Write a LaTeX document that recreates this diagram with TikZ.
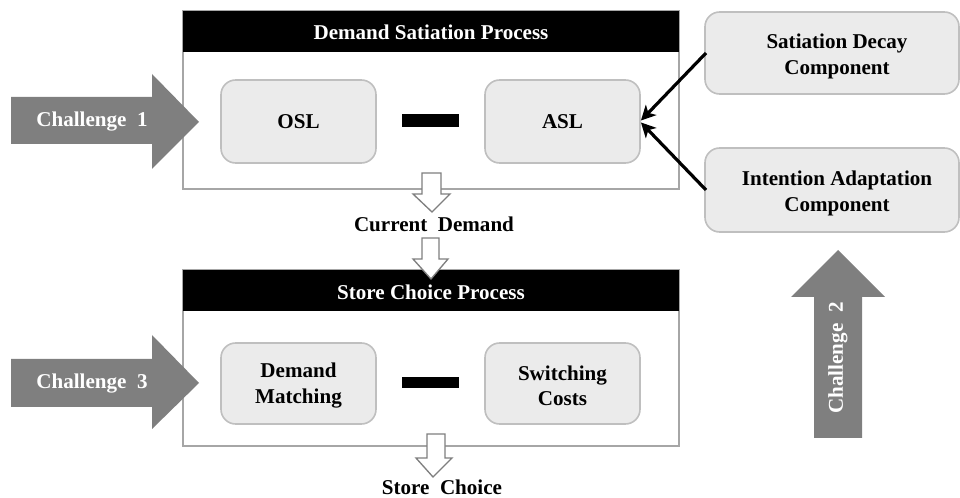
\documentclass[tikz,border=0pt]{standalone}
\usepackage{fontspec}
\setmainfont{Liberation Serif}
\usetikzlibrary{arrows.meta}
\definecolor{chgray}{HTML}{7F7F7F}
\definecolor{boxfill}{HTML}{EBEBEB}
\definecolor{boxline}{HTML}{BFBFBF}
\definecolor{frameline}{HTML}{A6A6A6}
\definecolor{hollowline}{HTML}{7F7F7F}
\tikzset{
  lbl/.style={font=\fontsize{15.8}{18}\selectfont\bfseries, align=center, inner sep=0pt},
  whitelbl/.style={lbl, text=white},
  compbox/.style={draw=boxline, line width=1.2pt, fill=boxfill, rounded corners=11pt},
  frame/.style={draw=frameline, line width=1pt, fill=white},
  header/.style={fill=black},
  challenge/.style={fill=chgray},
  hollow/.style={draw=hollowline, line width=1pt, fill=white, line join=miter},
  minusbar/.style={fill=black},
  feed/.style={draw=black, line width=2.4pt, -{Stealth[length=11pt,width=11pt,inset=3pt]}, shorten >=1pt}
}
\begin{document}
\begin{tikzpicture}[x=0.75pt,y=-0.75pt]
\useasboundingbox (0,0) rectangle (960,498);

% ---- Demand satiation process ----
\path[frame] (183,11) rectangle (679,189);
\path[header] (183,11) rectangle (679,52);
\node[whitelbl] (dsp) at (431,32) {Demand Satiation Process};
\path[compbox] (221,80) rectangle (376,163);
\node[lbl] (osl) at (298.5,122) {OSL};
\path[compbox] (485,80) rectangle (640,163);
\coordinate (aslE) at (640,121.5);
\node[lbl] (asl) at (562.5,122) {ASL};
\path[minusbar] (402,114) rectangle (459,127);

% ---- Store choice process ----
\path[frame] (183,270) rectangle (679,446);
\path[header] (183,270) rectangle (679,311);
\node[whitelbl] (scp) at (431,292) {Store Choice Process};
\path[compbox] (221,343) rectangle (376,424);
\node[lbl] (dm) at (298.5,385.5) {Demand\\[1pt]Matching};
\path[compbox] (485,343) rectangle (640,424);
\node[lbl] (sc) at (562.5,385.5) {Switching\\[1pt]Costs};
\path[minusbar] (402,377) rectangle (459,388);

% ---- hollow flow arrows ----
\path[hollow] (422,173) -- (441,173) -- (441,194) -- (450,194) -- (432,212) -- (413,194) -- (422,194) -- cycle;
\node[lbl] (cd) at (434,224) {Current\ \ Demand};
\path[hollow] (422,238) -- (439,238) -- (439,259) -- (448,259) -- (431,279) -- (413,259) -- (422,259) -- cycle;
\path[hollow] (427,434) -- (445,434) -- (445,458) -- (452,458) -- (433,477) -- (416,458) -- (427,458) -- cycle;
\node[lbl] (sch) at (442,487) {Store\ \ Choice};

% ---- challenge arrows ----
\path[challenge] (11,97) -- (152,97) -- (152,74) -- (199,122) -- (152,169) -- (152,144) -- (11,144) -- cycle;
\node[whitelbl] (c1) at (92,122) {Challenge\ \ 1};
\path[challenge] (11,359) -- (152,359) -- (152,335) -- (199,383) -- (152,429) -- (152,407) -- (11,407) -- cycle;
\node[whitelbl] (c3) at (92,384) {Challenge\ \ 3};
\path[challenge] (814,438) -- (814,297) -- (791,297) -- (838,250) -- (885,297) -- (862,297) -- (862,438) -- cycle;
\node[whitelbl, rotate=90] (c2) at (838,358) {Challenge\ \ 2};

% ---- components feeding the adaptation level ----
\path[compbox] (705,12) rectangle (959,94);
\node[lbl] (sd) at (837,56.5) {Satiation Decay\\[1pt]Component};
\coordinate (sdW) at (706,53);
\path[compbox] (705,148) rectangle (959,232);
\node[lbl] (ia) at (837,193.5) {Intention Adaptation\\[1pt]Component};
\coordinate (iaW) at (706,190);

\draw[feed] (sdW) -- (aslE);
\draw[feed] (iaW) -- (aslE);
\end{tikzpicture}
\end{document}
